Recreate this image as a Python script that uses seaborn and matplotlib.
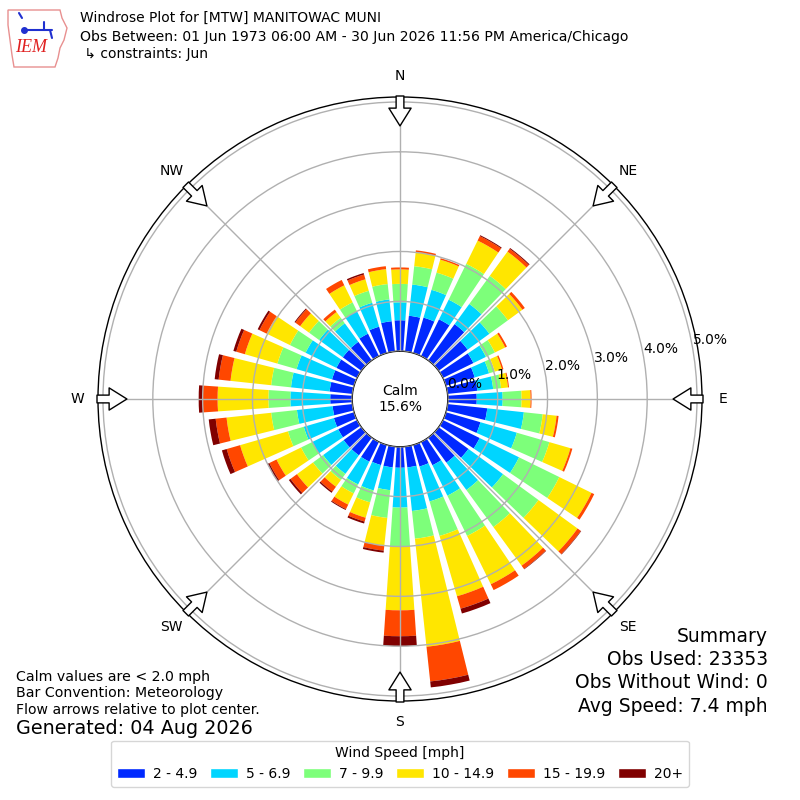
import numpy as np
import pandas as pd
import seaborn as sns
import matplotlib
matplotlib.use("Agg")
import matplotlib.pyplot as plt
from matplotlib.patches import Patch, Polygon
from matplotlib.lines import Line2D

# wind direction (deg, meteorological) and frequency [%] per speed bin
directions = list(range(0, 360, 10))
speed_bins = ["2 - 4.9", "5 - 6.9", "7 - 9.9", "10 - 14.9", "15 - 19.9", "20+"]
spd_2_5 = [0.62, 0.72, 0.74, 0.82, 0.90, 0.72, 0.68, 0.60, 0.60, 0.58, 0.80, 0.72,
           0.82, 0.74, 0.62, 0.52, 0.45, 0.42, 0.42, 0.42, 0.42, 0.44, 0.44, 0.44,
           0.42, 0.42, 0.40, 0.44, 0.46, 0.46, 0.46, 0.46, 0.46, 0.50, 0.55, 0.61]
spd_5_7 = [0.36, 0.63, 0.58, 0.44, 0.50, 0.54, 0.28, 0.30, 0.32, 0.52, 0.74, 0.76,
           0.88, 0.86, 0.68, 0.68, 0.73, 0.88, 0.80, 0.46, 0.53, 0.51, 0.46, 0.51,
           0.58, 0.63, 0.72, 0.80, 0.78, 0.74, 0.69, 0.59, 0.46, 0.50, 0.50, 0.44]
spd_7_10 = [0.37, 0.37, 0.36, 0.80, 0.70, 0.46, 0.20, 0.12, 0.16, 0.38, 0.38, 0.68,
            0.90, 0.88, 0.92, 0.90, 0.72, 0.56, 0.78, 0.56, 0.25, 0.20, 0.15, 0.25,
            0.25, 0.33, 0.52, 0.44, 0.40, 0.40, 0.35, 0.25, 0.14, 0.20, 0.25, 0.31]
spd_10_15 = [0.29, 0.28, 0.27, 0.52, 0.60, 0.36, 0.23, 0.15, 0.14, 0.18, 0.28, 0.44,
             0.72, 0.97, 0.96, 1.08, 1.26, 2.18, 1.28, 0.56, 0.32, 0.25, 0.17, 0.40,
             0.55, 1.00, 0.90, 1.02, 0.82, 0.68, 0.52, 0.22, 0.14, 0.38, 0.24, 0.30]
spd_15_20 = [0.04, 0.04, 0.03, 0.10, 0.07, 0.06, 0.04, 0.03, 0.02, 0.02, 0.04, 0.04,
             0.06, 0.08, 0.08, 0.13, 0.26, 0.70, 0.52, 0.10, 0.08, 0.10, 0.12, 0.16,
             0.16, 0.28, 0.22, 0.30, 0.24, 0.18, 0.16, 0.12, 0.06, 0.12, 0.10, 0.06]
spd_20p = [0.00, 0.00, 0.00, 0.02, 0.02, 0.00, 0.00, 0.00, 0.00, 0.00, 0.00, 0.00,
           0.00, 0.01, 0.01, 0.00, 0.10, 0.12, 0.20, 0.04, 0.04, 0.02, 0.03, 0.04,
           0.04, 0.10, 0.14, 0.08, 0.08, 0.06, 0.04, 0.02, 0.00, 0.00, 0.03, 0.00]
calm_pct = 15.6
ring_ticks = [0, 1, 2, 3, 4, 5]
compass = ["N", "NE", "E", "SE", "S", "SW", "W", "NW"]

# long table for seaborn
rows = []
for vals, name in zip([spd_2_5, spd_5_7, spd_7_10, spd_10_15, spd_15_20, spd_20p], speed_bins):
    for d, v in zip(directions, vals):
        rows.append({"theta": np.deg2rad(d), "speed": name, "freq": v})
df = pd.DataFrame(rows)

colors = [plt.cm.jet(k / 6.0) for k in range(1, 7)]
palette = dict(zip(speed_bins, colors))

sns.set_style("white")
plt.rcParams["font.family"] = ["DejaVu Sans"]
plt.rcParams["text.color"] = "black"
plt.rcParams["xtick.color"] = "black"
plt.rcParams["ytick.color"] = "black"

fig = plt.figure(figsize=(8, 8), dpi=100)
ax = fig.add_axes([0.1225, 0.12375, 0.755, 0.755], projection="polar")
ax.set_theta_zero_location("N")
ax.set_theta_direction(-1)

# seaborn stacks the last hue level at the bottom
sns.histplot(data=df, x="theta", weights="freq", hue="speed",
             hue_order=speed_bins[::-1], palette=palette, multiple="stack",
             bins=36, binrange=(np.deg2rad(-5), np.deg2rad(355)),
             shrink=0.78, linewidth=0, alpha=1, legend=False, ax=ax)

ax.set_rorigin(-0.96)
ax.set_ylim(0, 5.1)
ax.set_xlabel("")
ax.set_ylabel("")
ax.set_yticks(ring_ticks)
ax.set_yticklabels([f"{t:.1f}%" for t in ring_ticks], fontsize=10, color="black")
ax.set_rlabel_position(80)
ax.set_xticks(np.deg2rad(np.arange(0, 360, 45)))
ax.set_xticklabels([])
ax.grid(True, color="#b0b0b0", lw=1)
ax.set_axisbelow(False)
ax.spines["polar"].set_color("black")
ax.spines["polar"].set_linewidth(1)
ax.spines["inner"].set_color("black")
ax.spines["inner"].set_linewidth(1)

for i, lab in enumerate(compass):
    th = np.deg2rad(i * 45)
    ax.annotate("", xy=(th, 4.52), xytext=(th, 5.12), annotation_clip=False,
                arrowprops=dict(arrowstyle="simple,head_length=0.8,head_width=1.0,tail_width=0.35",
                                fc="white", ec="black", lw=1, shrinkA=0, shrinkB=0,
                                mutation_scale=16))
    ax.text(th, 5.52, lab, ha="center", va="center", fontsize=10, clip_on=False)

fig.text(0.5, 0.501, f"Calm\n{calm_pct}%", ha="center", va="center", fontsize=10,
         multialignment="center")

# header
fig.text(0.1, 1 - 18 / 800, "Windrose Plot for [MTW] MANITOWAC MUNI", va="center", fontsize=10)
fig.text(0.1, 1 - 37 / 800, "Obs Between: 01 Jun 1973 06:00 AM - 30 Jun 2026 11:56 PM America/Chicago",
         va="center", fontsize=10.1)
fig.text(0.1, 1 - 54 / 800, " \u21b3 constraints: Jun", va="center", fontsize=10)

# IEM logo (simplified)
logo_pts = [(8, 10), (60, 10), (62, 18), (67, 28), (64, 40), (60, 48), (58, 58), (55, 67),
            (14, 67), (12, 55), (10, 40), (8, 25)]
fig.add_artist(Polygon([(x / 800, 1 - y / 800) for x, y in logo_pts], closed=True, fill=False,
                       ec="#e89090", lw=1, transform=fig.transFigure))
for xs, ys in [([24, 52], [30, 30]), ([44, 44], [22, 30]), ([50, 52], [30, 38]), ([19, 22], [13, 18])]:
    fig.add_artist(Line2D([x / 800 for x in xs], [1 - y / 800 for y in ys], color="#2030d0",
                          lw=1.5, transform=fig.transFigure))
fig.add_artist(Line2D([24 / 800], [1 - 30 / 800], marker="o", ms=4, color="#2030d0",
                      transform=fig.transFigure))
fig.text(31 / 800, 1 - 48 / 800, "IEM", color="#e02020", fontsize=13, style="italic",
         family="Liberation Serif", ha="center", va="center")

# notes bottom-left
fig.text(16 / 800, 1 - 677 / 800, "Calm values are < 2.0 mph", va="center", fontsize=10.2)
fig.text(16 / 800, 1 - 693 / 800, "Bar Convention: Meteorology", va="center", fontsize=10.2)
fig.text(16 / 800, 1 - 710 / 800, "Flow arrows relative to plot center.", va="center", fontsize=10.1)
fig.text(16 / 800, 1 - 729 / 800, "Generated: 04 Aug 2026", va="center", fontsize=13.8)

# summary bottom-right
summary = ["Summary", "Obs Used: 23353", "Obs Without Wind: 0", "Avg Speed: 7.4 mph"]
for j, s in enumerate(summary):
    fig.text(768 / 800, 1 - (636 + 23.5 * j) / 800, s, ha="right", va="center", fontsize=13.5)

handles = [Patch(facecolor=c) for c in colors]
fig.legend(handles, speed_bins, ncol=6, title="Wind Speed [mph]", loc="lower center",
           bbox_to_anchor=(0.5, 0.008), fontsize=10, title_fontsize=10, frameon=True,
           columnspacing=0.9, handletextpad=0.6, handlelength=2.0)

fig.savefig("out.png", dpi=100)
